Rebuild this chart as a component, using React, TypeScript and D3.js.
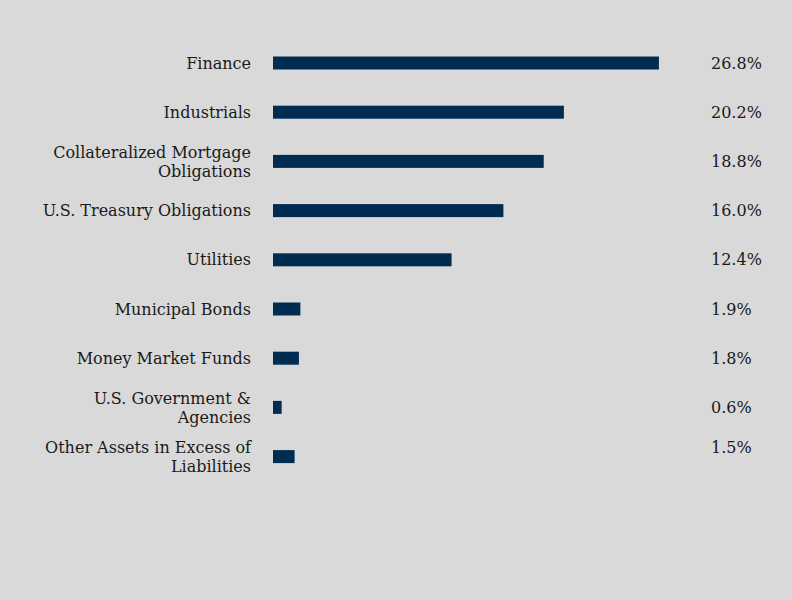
import React from "react";
import * as d3 from "d3";

const categories = [
  ["Finance"],
  ["Industrials"],
  ["Collateralized Mortgage", "Obligations"],
  ["U.S. Treasury Obligations"],
  ["Utilities"],
  ["Municipal Bonds"],
  ["Money Market Funds"],
  ["U.S. Government &", "Agencies"],
  ["Other Assets in Excess of", "Liabilities"],
];
const values = [26.8, 20.2, 18.8, 16.0, 12.4, 1.9, 1.8, 0.6, 1.5];
const valueLabels = ["26.8%", "20.2%", "18.8%", "16.0%", "12.4%", "1.9%", "1.8%", "0.6%", "1.5%"];

const W = 792;
const H = 600;
const FONT = "'DejaVu Serif', serif";

export default function App() {
  if (typeof document !== "undefined") document.body.style.margin = "0";
  const keys = categories.map((c) => c.join(" "));
  const y = d3.scalePoint<string>().domain(keys).range([63, 456.6]);
  const x = d3.scaleLinear().domain([0, 30]).range([273, 705]);
  const barH = 13;
  const lineH = 19;
  return (
    <svg width={W} height={H} style={{ display: "block", background: "#d9d9d9" }}>
      <rect x={0} y={0} width={W} height={H} fill="#d9d9d9" />
      {categories.map((lines, i) => {
        const cy = y(keys[i])!;
        const n = lines.length;
        return (
          <g key={i}>
            <text
              x={251}
              textAnchor="end"
              fontFamily={FONT}
              fontSize={16}
              fill="#1a1a1a"
            >
              {lines.map((l, j) => (
                <tspan key={j} x={251} y={cy + (j - (n - 1) / 2) * lineH} dy="0.35em">
                  {l}
                </tspan>
              ))}
            </text>
            <rect
              x={x(0)}
              y={cy - barH / 2}
              width={x(values[i]) - x(0)}
              height={barH}
              fill="#012c52"
            />
            <text
              x={711}
              y={i === categories.length - 1 ? cy - 9.5 : cy}
              dy="0.35em"
              fontFamily={FONT}
              fontSize={16}
              fill="#1a1a1a"
            >
              {valueLabels[i]}
            </text>
          </g>
        );
      })}
    </svg>
  );
}
